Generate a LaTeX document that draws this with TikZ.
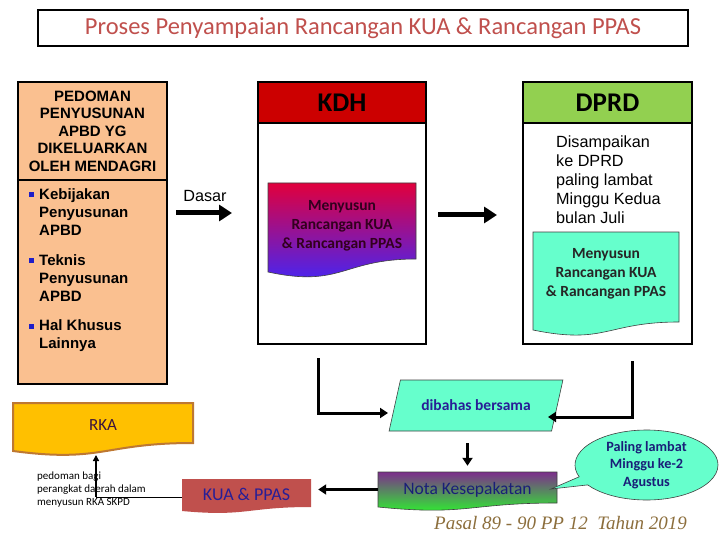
\documentclass[tikz,border=0pt]{standalone}
\usepackage{fontspec}
\setmainfont{Carlito}
\newfontfamily\arialf{Liberation Sans}
\newfontfamily\timesf{Liberation Serif}
\usetikzlibrary{shapes.geometric,shapes.callouts,arrows.meta,calc}
\definecolor{titlered}{RGB}{192,80,77}
\definecolor{peach}{RGB}{250,192,144}
\definecolor{kdhred}{RGB}{204,0,0}
\definecolor{dprdgreen}{RGB}{146,208,80}
\definecolor{aqua}{RGB}{102,255,204}
\definecolor{gradtop}{RGB}{225,0,60}
\definecolor{gradbot}{RGB}{60,40,255}
\definecolor{notatop}{RGB}{125,45,140}
\definecolor{notabot}{RGB}{40,255,40}
\definecolor{gold}{RGB}{255,192,0}
\definecolor{goldedge}{RGB}{190,120,50}
\definecolor{kuared}{RGB}{192,80,77}
\definecolor{navy}{RGB}{25,30,120}
\definecolor{kuatext}{RGB}{40,30,150}
\definecolor{rkatext}{RGB}{60,20,60}
\definecolor{maroontext}{RGB}{50,0,30}
\definecolor{bulblue}{RGB}{30,30,200}
\definecolor{footbrown}{RGB}{140,110,60}
\begin{document}
\begin{tikzpicture}[x=1pt,y=-1pt,
  box/.style={draw, line width=2.5pt},
  hdr/.style={draw, line width=2.5pt, minimum width=168pt, minimum height=41pt, inner sep=0pt, font=\bfseries\fontsize{27}{30}\selectfont},
  bul/.style={font=\arialf\bfseries\fontsize{15}{18}\selectfont, align=left, inner sep=0pt, anchor=west},
  sq/.style={fill=bulblue, minimum size=5.5pt, inner sep=0pt},
  doctext/.style={font=\bfseries\fontsize{15.5}{19}\selectfont, align=center, inner sep=0pt},
  bigarrow/.style={line width=5pt, -{Triangle[length=13pt,width=16pt]}},
  medarrow/.style={line width=3pt, -{Triangle[length=8pt,width=10pt]}},
  thinedge/.style={draw=black!75, line width=0.6pt}]
\useasboundingbox (0,0) rectangle (720,540);
\fill[white] (0,0) rectangle (720,540);

% title
\node[draw, line width=2.5pt, minimum width=650pt, minimum height=36pt, inner sep=0pt, text=titlered, font=\fontsize{24.5}{28}\selectfont] (title) at (363,28) {Proses Penyampaian Rancangan KUA \& Rancangan PPAS};

% left box
\node[box, fill=peach, minimum width=149pt, minimum height=302pt] (lbox) at (92.5,233) {};
\draw[line width=2pt] ([yshift=-99pt]lbox.north west) -- ([yshift=-99pt]lbox.north east);
\node[font=\arialf\bfseries\fontsize{15}{17.5}\selectfont, align=center, inner sep=0pt] (ped) at (92.5,131) {PEDOMAN\\PENYUSUNAN\\APBD YG\\DIKELUARKAN\\OLEH MENDAGRI};
\node[sq] (q1) at (31.5,194.5) {};
\node[bul] (b1) at (39,212) {Kebijakan\\Penyusunan\\APBD};
\node[sq] (q2) at (31.5,260.5) {};
\node[bul] (b2) at (39,278) {Teknis\\Penyusunan\\APBD};
\node[sq] (q3) at (31.5,326.5) {};
\node[bul] (b3) at (39,336) {Hal Khusus\\Lainnya};

% KDH and DPRD boxes
\node[box, fill=white, minimum width=168pt, minimum height=262pt] (kdh) at (342,213) {};
\node[hdr, fill=kdhred] (kdhh) at (342,102.5) {KDH};
\node[box, fill=white, minimum width=169pt, minimum height=262pt] (dprd) at (607.5,213) {};
\node[hdr, fill=dprdgreen, minimum width=169pt] (dprdh) at (607.5,102.5) {DPRD};

\path[thinedge, top color=gradtop, bottom color=gradbot] (268,183) -- (416,183) -- (416,259) .. controls (342,259) and (342,288) .. (268,272) -- cycle;
\node[doctext, text=maroontext] (kdhd) at (342,226) {Menyusun\\Rancangan KUA\\\& Rancangan PPAS};

\node[font=\arialf\fontsize{16.2}{19}\selectfont, align=left, inner sep=0pt, anchor=west] (dtx) at (556,180) {Disampaikan\\ke DPRD\\paling lambat\\Minggu Kedua\\bulan Juli};
\path[thinedge, fill=aqua] (533,232) -- (679,232) -- (679,322) .. controls (606,322) and (606,345) .. (533,330) -- cycle;
\node[doctext, text=black!85] (dprdd) at (606,274) {Menyusun\\Rancangan KUA\\\& Rancangan PPAS};

% top arrows
\node[font=\arialf\fontsize{16.2}{19}\selectfont, inner sep=0pt] (dasar) at (205,196) {Dasar};
\coordinate (da1) at (176,213);
\coordinate (da2) at (232,213);
\draw[bigarrow] (da1) -- (da2);
\coordinate (ma1) at (438,215);
\coordinate (ma2) at (497,215);
\draw[bigarrow] (ma1) -- (ma2);

% dibahas bersama
\node[trapezium, trapezium left angle=53.3, trapezium right angle=126.7, trapezium stretches=true, minimum width=174pt, minimum height=51pt, inner sep=0pt, thinedge, fill=aqua, font=\bfseries\fontsize{15.5}{19}\selectfont, text=kuatext] (dib) at (476,405.5) {dibahas bersama};
\coordinate (lc) at ($(kdh.south)+(-24,13)$);
\coordinate (lb) at (388,413);
\draw[medarrow] (lc) |- (lb);
\coordinate (rc) at ($(dprd.south)+(24.5,16)$);
\coordinate (rb) at (548,417);
\draw[medarrow] (rc) |- (rb);

% KUA & PPAS
\path[fill=kuared] (182,479) -- (311,479) -- (311,507) .. controls (246.5,507) and (246.5,517) .. (182,511) -- cycle;
\node[font=\fontsize{18}{20}\selectfont, text=kuatext, inner sep=0pt, minimum width=129pt, minimum height=30pt] (kua) at (246.5,494) {KUA \& PPAS};

% Nota
\path[thinedge, top color=notatop, bottom color=notabot] (378,472) -- (557,472) -- (557,503) .. controls (467.5,503) and (467.5,516) .. (378,507) -- cycle;
\node[font=\fontsize{17.5}{20}\selectfont, text=navy, inner sep=0pt, minimum width=179pt, minimum height=35pt] (nota) at (467.5,489.5) {Nota Kesepakatan};
\draw[medarrow, shorten <=12pt, shorten >=6pt] (dib.south -| nota.north) -- (nota.north);
\draw[medarrow, shorten >=7pt] (nota.west) -- (nota.west -| kua.east);

% callout
\node[ellipse callout, callout absolute pointer={(551,489)}, thinedge, fill=aqua, minimum width=143pt, minimum height=70pt, inner sep=0pt, align=center, font=\bfseries\fontsize{14.2}{17.5}\selectfont, text=navy] (call) at (646.5,465) {Paling lambat\\Minggu ke-2\\Agustus};

% RKA
\path[draw=goldedge, line width=2pt, fill=gold] (13,403) -- (193,403) -- (193,443) .. controls (103,443) and (103,463) .. (13,451) -- cycle;
\node[font=\fontsize{17}{20}\selectfont, text=rkatext, inner sep=0pt, minimum width=180pt, minimum height=44pt] (rka) at (103,425) {RKA};

\node[font=\fontsize{11}{13}\selectfont, align=left, inner sep=0pt, anchor=west] (ped2) at (37,490) {pedoman bagi\\perangkat daerah dalam\\menyusun RKA SKPD};
\coordinate (kj) at (96,497);
\coordinate (rkab) at (96,455);
\draw[line width=1pt] ($(kua.west)+(0,3)$) -- (kj);
\draw[line width=2pt, -{Triangle[length=6pt,width=6pt]}] (kj) -- (rkab);

% footer
\node[font=\timesf\itshape\fontsize{19}{22}\selectfont, text=footbrown, inner sep=0pt] (foot) at (560.5,523) {Pasal 89 - 90 PP 12\ \ Tahun 2019};
\end{tikzpicture}
\end{document}
